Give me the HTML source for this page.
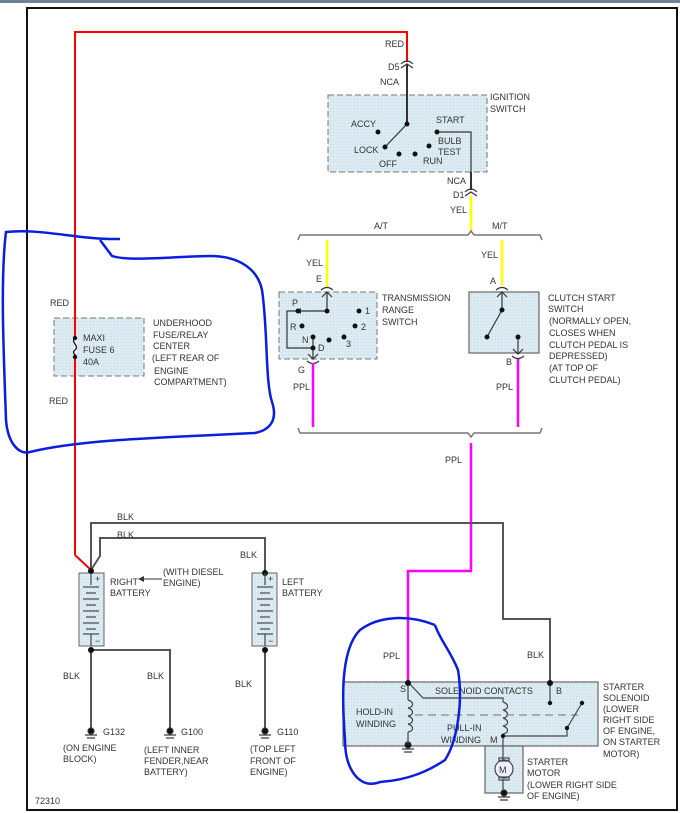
<!DOCTYPE html>
<html><head><meta charset="utf-8"><style>
html,body{margin:0;padding:0;background:#fff}
svg{display:block}
text{font-family:"Liberation Sans",Arial,sans-serif;font-size:9px;fill:#333}
</style></head><body>
<svg width="680" height="813" viewBox="0 0 680 813" xmlns="http://www.w3.org/2000/svg">
<defs>
<pattern id="dots" width="3" height="3" patternUnits="userSpaceOnUse"><rect width="3" height="3" fill="#dcebf2"/><rect width="1" height="1" fill="#c5dbe6"/></pattern>
</defs>
<rect x="0" y="0" width="680" height="3" fill="#6d8296"/>
<rect x="27" y="8" width="650" height="802" fill="#fff" stroke="#111" stroke-width="2"/>

<rect x="328" y="95" width="159" height="77" fill="url(#dots)" stroke="#777" stroke-dasharray="6,3"/>
<rect x="54" y="318" width="90" height="58" fill="url(#dots)" stroke="#777" stroke-dasharray="6,3"/>
<rect x="279" y="292" width="98" height="67" fill="url(#dots)" stroke="#777" stroke-dasharray="6,3"/>
<rect x="469" y="292" width="70" height="61" fill="url(#dots)" stroke="#666" stroke-width="1.2"/>
<rect x="79" y="573" width="25" height="73" fill="url(#dots)" stroke="#666"/>
<rect x="252" y="573" width="25" height="73" fill="url(#dots)" stroke="#666"/>
<rect x="343" y="682" width="255" height="64" fill="url(#dots)" stroke="#666" stroke-width="1.2"/>
<rect x="485" y="746" width="38" height="47" fill="url(#dots)" stroke="#666" stroke-width="1.2"/>

<g fill="none" stroke="#f00" stroke-width="2">
<polyline points="75,555 75,32 407,32 407,62"/>
<polyline points="75,555 91,570"/>
</g>
<g fill="none" stroke="#333" stroke-width="1.2">
<path d="M401,64 q6,-6 12,0"/>
<path d="M401,68 l6,-4 l6,4"/>
<line x1="407" y1="64" x2="407" y2="124" stroke-width="2"/>
<line x1="407" y1="124" x2="385" y2="147"/>
<polyline points="437,132 471,132 471,172"/>
<line x1="471" y1="172" x2="471" y2="190" stroke-width="2"/>
<path d="M465,192 q6,-6 12,0"/>
<path d="M465,196 l6,-4 l6,4"/>
</g>
<g fill="#111">
<circle cx="407" cy="124" r="2.5"/><circle cx="378" cy="132" r="2.5"/><circle cx="385" cy="147" r="2.5"/>
<circle cx="399" cy="154" r="2.5"/><circle cx="415" cy="154" r="2.5"/><circle cx="429" cy="146" r="2.5"/><circle cx="437" cy="132" r="2.5"/>
</g>
<line x1="471" y1="196" x2="471" y2="233" stroke="#ff0" stroke-width="2.5"/>
<polyline points="298,240 300,235 468,235 471,231 474,235 540,235 542,240" fill="none" stroke="#777" stroke-width="1.5"/>
<line x1="327" y1="240" x2="327" y2="287" stroke="#ff0" stroke-width="2.5"/>
<line x1="502" y1="240" x2="502" y2="285" stroke="#ff0" stroke-width="2.5"/>

<g fill="none" stroke="#333" stroke-width="1.2">
<path d="M321,290 q6,-5 12,0"/>
<path d="M322,297 l5,-5 l5,5"/>
<line x1="327" y1="292" x2="327" y2="311"/>
<polyline points="327,311 287,311 287,348 313,348"/>
<line x1="313" y1="337" x2="313" y2="358"/>
<path d="M308,354 l5,5 l5,-5"/>
<path d="M307,361 q6,5 12,0"/>
<path d="M496,290 q6,-5 12,0"/>
<path d="M497,297 l5,-5 l5,5"/>
<line x1="502" y1="292" x2="502" y2="310"/>
<line x1="502" y1="310" x2="487" y2="337"/>
<line x1="518" y1="337" x2="518" y2="353"/>
<path d="M513,349 l5,5 l5,-5"/>
<path d="M512,356 q6,5 12,0"/>
</g>
<path d="M296,311 l5,-3 v6z" fill="#333"/>
<g fill="#111">
<circle cx="327" cy="311" r="2.5"/><circle cx="298" cy="311" r="2.5"/><circle cx="359" cy="311" r="2.5"/>
<circle cx="302" cy="326" r="2.5"/><circle cx="355" cy="326" r="2.5"/><circle cx="313" cy="337" r="2.5"/>
<circle cx="313" cy="348" r="2.5"/><circle cx="329" cy="340" r="2.5"/><circle cx="344" cy="337" r="2.5"/>
<circle cx="502" cy="310" r="2.5"/><circle cx="487" cy="337" r="2.5"/><circle cx="518" cy="337" r="2.5"/>
</g>
<line x1="313" y1="363" x2="313" y2="427" stroke="#f0f" stroke-width="2.5"/>
<line x1="518" y1="359" x2="518" y2="427" stroke="#f0f" stroke-width="2.5"/>
<polyline points="298,428 300,433 468,433 471,437 474,433 540,433 542,428" fill="none" stroke="#777" stroke-width="1.5"/>
<polyline points="471,443 471,571 408,571 408,682" fill="none" stroke="#f0f" stroke-width="2.5"/>

<line x1="75" y1="337" x2="75" y2="358" stroke="#fff" stroke-width="3"/>
<path d="M75,338 c-5,4 5,8 0,12 c-5,4 5,6 0,8" fill="none" stroke="#111" stroke-width="1.3"/>
<circle cx="75" cy="338" r="2.2" fill="#111"/><circle cx="75" cy="357" r="2.2" fill="#111"/>

<g fill="none" stroke="#555" stroke-width="2">
<polyline points="91,570 91,523 503,523 503,619 550,619 550,682"/>
<polyline points="91,570 100,556 100,538 265,538 265,573"/>
<polyline points="91,650 91,728"/>
<polyline points="91,650 170,650 170,728"/>
<polyline points="265,649 265,728"/>
</g>
<g fill="#111"><circle cx="91" cy="571" r="3"/><circle cx="91" cy="650" r="3"/><circle cx="265" cy="573" r="3"/><circle cx="265" cy="650" r="3"/></g>
<g stroke="#444" stroke-width="1.2">
<line x1="91" y1="573" x2="91" y2="585"/><line x1="91" y1="634" x2="91" y2="646"/>
<line x1="83" y1="587" x2="99" y2="587"/><line x1="86" y1="593" x2="96" y2="593"/>
<line x1="83" y1="599" x2="99" y2="599"/><line x1="86" y1="605" x2="96" y2="605"/>
<line x1="83" y1="611" x2="99" y2="611"/><line x1="86" y1="617" x2="96" y2="617"/>
<line x1="83" y1="623" x2="99" y2="623"/><line x1="86" y1="629" x2="96" y2="629"/><line x1="83" y1="634" x2="99" y2="634"/>
<line x1="265" y1="573" x2="265" y2="585"/><line x1="265" y1="634" x2="265" y2="646"/>
<line x1="257" y1="587" x2="273" y2="587"/><line x1="260" y1="593" x2="270" y2="593"/>
<line x1="257" y1="599" x2="273" y2="599"/><line x1="260" y1="605" x2="270" y2="605"/>
<line x1="257" y1="611" x2="273" y2="611"/><line x1="260" y1="617" x2="270" y2="617"/>
<line x1="257" y1="623" x2="273" y2="623"/><line x1="260" y1="629" x2="270" y2="629"/><line x1="257" y1="634" x2="273" y2="634"/>
</g>
<g stroke="#333" stroke-width="1.2" fill="#111">
<circle cx="91" cy="731" r="3"/><line x1="85" y1="735" x2="97" y2="735"/><line x1="87" y1="738" x2="95" y2="738"/>
<circle cx="170" cy="731" r="3"/><line x1="164" y1="735" x2="176" y2="735"/><line x1="166" y1="738" x2="174" y2="738"/>
<circle cx="265" cy="731" r="3"/><line x1="259" y1="735" x2="271" y2="735"/><line x1="261" y1="738" x2="269" y2="738"/>
<circle cx="408" cy="745" r="3"/><line x1="402" y1="749" x2="414" y2="749"/><line x1="404" y1="752" x2="412" y2="752"/>
<circle cx="504" cy="793" r="3"/><line x1="498" y1="797" x2="510" y2="797"/><line x1="500" y1="800" x2="508" y2="800"/>
</g>
<line x1="143" y1="579" x2="162" y2="579" stroke="#333"/><path d="M138,579 l6,-3 v6z" fill="#333"/>

<g fill="none" stroke="#444" stroke-width="1.2">
<polyline points="408,682 423,698 503,698 503,702"/>
<path d="M503,702 c6,2 6,7 0,8 c6,2 6,7 0,8 c6,2 6,7 0,8 c6,2 6,7 0,8"/>
<line x1="503" y1="734" x2="503" y2="746"/>
<line x1="408" y1="682" x2="408" y2="700"/>
<path d="M408,700 c6,2 6,7 0,8 c6,2 6,7 0,8 c6,2 6,7 0,8 c6,2 6,7 0,8"/>
<line x1="408" y1="732" x2="408" y2="745"/>
<line x1="415" y1="715" x2="578" y2="715" stroke-dasharray="8,5" stroke="#888"/>
<line x1="550" y1="682" x2="550" y2="703"/>
<line x1="582" y1="703" x2="567" y2="728"/>
<polyline points="567,728 567,736 503,736"/>
<line x1="503" y1="746" x2="503" y2="760"/><line x1="503" y1="779" x2="503" y2="791"/>
<circle cx="504" cy="769" r="9" fill="#eef"/>
<rect x="499" y="758" width="10" height="3"/><rect x="499" y="777" width="10" height="3"/>
</g>
<text x="499" y="773" font-size="11">M</text>
<g fill="#111"><circle cx="408" cy="683" r="3"/><circle cx="550" cy="683" r="3"/><circle cx="550" cy="703" r="2.2"/><circle cx="582" cy="703" r="2.2"/><circle cx="567" cy="728" r="2.2"/><circle cx="503" cy="736" r="2.2"/></g>

<text x="385" y="47">RED</text><text x="388" y="70">D5</text><text x="380" y="85">NCA</text>
<text x="490" y="100">IGNITION</text><text x="490" y="112">SWITCH</text>
<text x="351" y="127">ACCY</text><text x="436" y="123">START</text><text x="354" y="153">LOCK</text>
<text x="438" y="144">BULB</text><text x="438" y="155">TEST</text><text x="379" y="167">OFF</text><text x="423" y="164">RUN</text>
<text x="447" y="184">NCA</text><text x="453" y="198">D1</text><text x="450" y="213">YEL</text>
<text x="374" y="229">A/T</text><text x="492" y="229">M/T</text>
<text x="306" y="266">YEL</text><text x="481" y="258">YEL</text>
<text x="316" y="282">E</text><text x="490" y="284">A</text>
<text x="382" y="301">TRANSMISSION</text><text x="382" y="313">RANGE</text><text x="382" y="325">SWITCH</text>
<text x="292" y="306">P</text><text x="365" y="314">1</text><text x="290" y="330">R</text><text x="361" y="330">2</text>
<text x="302" y="343">N</text><text x="318" y="351">D</text><text x="346" y="347">3</text>
<text x="298" y="373">G</text><text x="293" y="390">PPL</text>
<text x="548" y="301">CLUTCH START</text><text x="548" y="312">SWITCH</text><text x="549" y="324">(NORMALLY OPEN,</text>
<text x="549" y="336">CLOSES WHEN</text><text x="549" y="348">CLUTCH PEDAL IS</text><text x="549" y="359">DEPRESSED)</text>
<text x="549" y="371">(AT TOP OF</text><text x="549" y="383">CLUTCH PEDAL)</text>
<text x="506" y="365">B</text><text x="496" y="390">PPL</text>
<text x="50" y="306">RED</text><text x="49" y="404">RED</text>
<text x="83" y="341">MAXI</text><text x="83" y="353">FUSE 6</text><text x="83" y="365">40A</text>
<text x="153" y="326">UNDERHOOD</text><text x="153" y="338">FUSE/RELAY</text><text x="153" y="349">CENTER</text>
<text x="152" y="361">(LEFT REAR OF</text><text x="154" y="374">ENGINE</text><text x="154" y="385">COMPARTMENT)</text>
<text x="445" y="463">PPL</text>
<text x="117" y="520">BLK</text><text x="117" y="538">BLK</text><text x="240" y="558">BLK</text>
<text x="110" y="585">RIGHT</text><text x="110" y="596">BATTERY</text>
<text x="163" y="575">(WITH DIESEL</text><text x="163" y="586">ENGINE)</text>
<text x="282" y="585">LEFT</text><text x="282" y="596">BATTERY</text>
<text x="95" y="582" font-size="8">+</text><text x="268" y="582" font-size="8">+</text>
<text x="95" y="644" font-size="8">−</text><text x="268" y="644" font-size="8">−</text>
<text x="63" y="679">BLK</text><text x="147" y="679">BLK</text><text x="235" y="687">BLK</text>
<text x="103" y="735">G132</text><text x="181" y="735">G100</text><text x="277" y="735">G110</text>
<text x="63" y="751">(ON ENGINE</text><text x="63" y="762">BLOCK)</text>
<text x="144" y="753">(LEFT INNER</text><text x="144" y="764">FENDER,NEAR</text><text x="144" y="775">BATTERY)</text>
<text x="250" y="752">(TOP LEFT</text><text x="250" y="764">FRONT OF</text><text x="250" y="775">ENGINE)</text>
<text x="383" y="659">PPL</text><text x="527" y="658">BLK</text>
<text x="400" y="692">S</text><text x="435" y="694">SOLENOID CONTACTS</text><text x="556" y="694">B</text>
<text x="356" y="715">HOLD-IN</text><text x="356" y="727">WINDING</text>
<text x="447" y="731">PULL-IN</text><text x="441" y="743">WINDING</text><text x="490" y="743">M</text>
<text x="603" y="690">STARTER</text><text x="603" y="701">SOLENOID</text><text x="603" y="712">(LOWER</text>
<text x="603" y="723">RIGHT SIDE</text><text x="603" y="734">OF ENGINE,</text><text x="603" y="745">ON STARTER</text><text x="603" y="757">MOTOR)</text>
<text x="527" y="765">STARTER</text><text x="527" y="776">MOTOR</text><text x="527" y="788">(LOWER RIGHT SIDE</text><text x="527" y="799">OF ENGINE)</text>
<text x="35" y="804">72310</text>

<g fill="none" stroke="#0a1ee0" stroke-width="2.5">
<path d="M120,239 C80,240 40,228 6,232 C0,280 4,360 6,420 C8,445 20,455 30,452 C80,440 150,438 255,433 C270,430 278,420 272,402 C265,380 268,330 262,290 C258,270 240,256 210,256 C180,256 130,262 112,256 L100,240"/>
<path d="M435,625 C410,615 380,615 360,630 C340,650 342,700 345,740 C345,770 360,790 380,782 C410,780 430,770 445,760 C458,740 463,700 458,670 C450,650 440,640 435,625"/>
</g>
</svg>
</body></html>
